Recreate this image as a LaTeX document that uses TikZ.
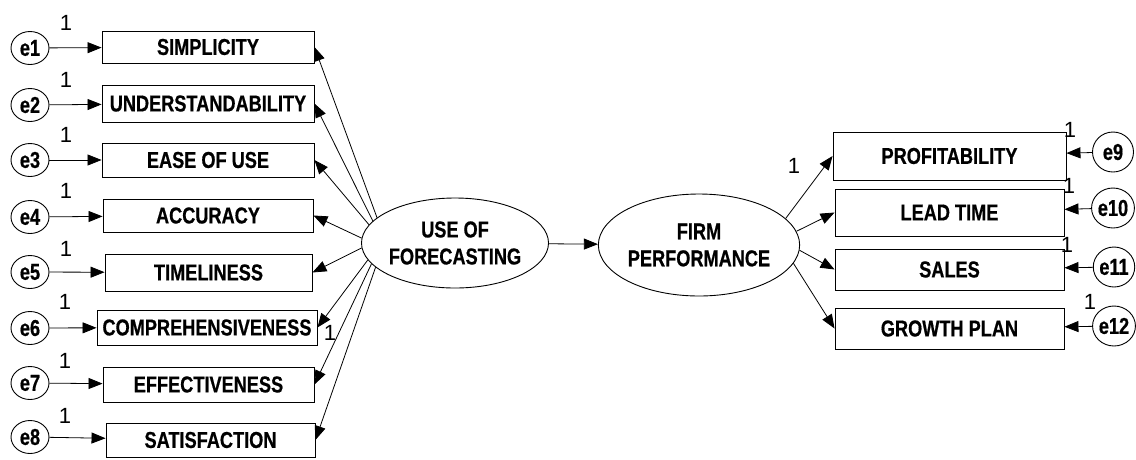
\documentclass[tikz,border=0pt]{standalone}
\usepackage{fontspec}
\newfontfamily\amosb[FakeStretch=0.79,FakeBold=0.6]{Liberation Sans Bold}
\newfontfamily\amosn{Liberation Sans}
\usetikzlibrary{arrows.meta,shapes.geometric}
\begin{document}
\begin{tikzpicture}[x=1pt,y=-1pt,
  txt/.style={font=\amosn\fontsize{22}{26}\selectfont},
  bold/.style={font=\amosb\fontsize{23}{27}\selectfont},
  box/.style={bold, draw, line width=0.9pt, rectangle, inner sep=0pt},
  err/.style={bold, draw, line width=0.9pt, ellipse, inner sep=0pt},
  lat/.style={bold, draw, line width=0.9pt, ellipse, inner sep=0pt, align=center},
  one/.style={txt, inner sep=0pt},
  arr/.style={-{Triangle[length=14pt,width=11pt]}, line width=0.8pt}
]
\useasboundingbox (0,0) rectangle (1136,459);

% left indicator boxes
\node[box, minimum width=212pt, minimum height=32pt] (b1) at (208,47) {SIMPLICITY};
\node[box, minimum width=212pt, minimum height=37pt] (b2) at (208,103.5) {UNDERSTANDABILITY};
\node[box, minimum width=212pt, minimum height=34pt] (b3) at (208,160) {EASE OF USE};
\node[box, minimum width=210pt, minimum height=33pt] (b4) at (208,215.5) {ACCURACY};
\node[box, minimum width=207pt, minimum height=37pt] (b5) at (208.5,272.5) {TIMELINESS};
\node[box, minimum width=220pt, minimum height=35pt] (b6) at (207,327.5) {COMPREHENSIVENESS};
\node[box, minimum width=211pt, minimum height=35pt] (b7) at (208.5,384.5) {EFFECTIVENESS};
\node[box, minimum width=209pt, minimum height=34pt] (b8) at (210.5,440) {SATISFACTION};

% left error terms
\foreach \i/\y in {1/48,2/105,3/160,4/217,5/272,6/328,7/383,8/437}{
  \node[err, minimum width=38pt, minimum height=33pt] (e\i) at (30,\y) {e\i};
}

% left "1" labels
\foreach \i/\x/\y in {1/66/22.5,2/66/80,3/66/134.5,4/66/191,5/66/249,6/65/302,7/65/361,8/65/416}{
  \node[one] (o\i) at (\x,\y) {1};
}

% latent variables
\node[lat, minimum width=178pt, minimum height=90pt] (uf) at (455,243) {USE OF\\FORECASTING};
\node[lat, minimum width=184pt, minimum height=102pt] (fp) at (699,245) {FIRM\\PERFORMANCE};

% right indicator boxes
\node[box, minimum width=233pt, minimum height=48pt] (r1) at (949.5,156) {PROFITABILITY};
\node[box, minimum width=229pt, minimum height=47pt] (r2) at (949.5,212.5) {LEAD TIME};
\node[box, minimum width=229pt, minimum height=41pt] (r3) at (949.5,269.5) {SALES};
\node[box, minimum width=229pt, minimum height=41pt] (r4) at (949.5,328.5) {GROWTH PLAN};

% right error terms
\node[err, minimum width=41pt, minimum height=40pt] (e9) at (1113,152) {e9};
\node[err, minimum width=41pt, minimum height=40pt] (e10) at (1113,208) {e10};
\node[err, minimum width=41pt, minimum height=40pt] (e11) at (1114,267) {e11};
\node[err, minimum width=41pt, minimum height=40pt] (e12) at (1114,326) {e12};

% other "1" labels
\node[one] (oc) at (330,333) {1};
\node[one] (op) at (794,166) {1};
\node[one] (o9) at (1070,130) {1};
\node[one] (o10) at (1069,186) {1};
\node[one] (o11) at (1067,245) {1};
\node[one] (o12) at (1090,301.5) {1};

% error arrows
\foreach \i in {1,...,8}{ \draw[arr] (e\i) -- (b\i); }
\draw[arr] (e9) -- (r1);
\draw[arr] (e10) -- (r2);
\draw[arr] (e11) -- (r3);
\draw[arr] (e12) -- (r4);

% loadings
\draw[arr] (uf.162) -- (b1.east);
\draw[arr] (uf.165) -- (b2.east);
\draw[arr] (uf.168) -- (b3.east);
\draw[arr] (uf.177) -- (b4.east);
\draw[arr] (uf.183) -- (b5.east);
\draw[arr] (uf.191) -- (b6.east);
\draw[arr] (uf.194) -- (b7.east);
\draw[arr] (uf.197) -- (b8.east);

\draw[arr] (uf) -- (fp);

\draw[arr] (fp.17) -- (r1.west);
\draw[arr] (fp.8) -- (r2.west);
\draw[arr] (fp.-3) -- (r3.west);
\draw[arr] (fp.-11) -- (r4.west);
\end{tikzpicture}
\end{document}
